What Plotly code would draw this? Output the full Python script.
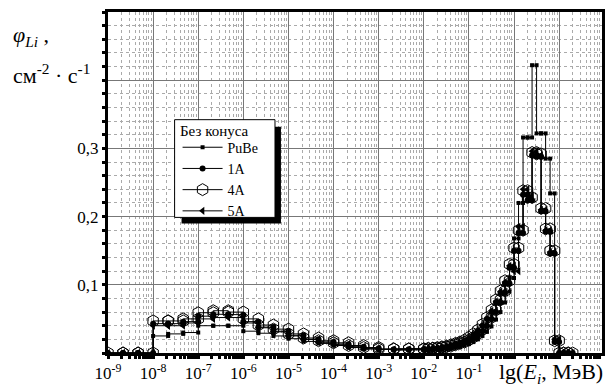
import plotly.graph_objects as go

# Energy group boundaries, lg(E, MeV)
LG_EDGES = [-9.0, -8.667, -8.333, -8.0, -7.667, -7.333, -7.0, -6.667, -6.333, -6.0,
            -5.667, -5.333, -5.0, -4.667, -4.333, -4.0, -3.667, -3.333, -3.0, -2.667,
            -2.333, -2.0, -1.9, -1.8, -1.7, -1.6, -1.5, -1.4, -1.3, -1.2, -1.1, -1.0,
            -0.9, -0.8, -0.7, -0.6, -0.5, -0.4, -0.3, -0.2, -0.1, 0.0, 0.1, 0.2, 0.3,
            0.4, 0.5, 0.6, 0.7, 0.8, 0.9, 1.0, 1.1, 1.2, 1.3]

PUBE = [0, 0, 0, 0.025, 0.028, 0.030, 0.040, 0.040, 0.040, 0.032, 0.029, 0.025, 0.021,
        0.017, 0.014, 0.011, 0.008, 0.006, 0.005, 0.004, 0.004,
        0.004, 0.004, 0.005, 0.005, 0.006, 0.007, 0.008, 0.009, 0.011, 0.013, 0.016,
        0.020, 0.025, 0.031, 0.039, 0.049, 0.060, 0.074, 0.090, 0.110, 0.168, 0.220,
        0.316, 0.316, 0.422, 0.322, 0.322, 0.285, 0.234, 0.020, 0, 0, 0]
S1A = [0, 0, 0, 0.043, 0.043, 0.046, 0.054, 0.057, 0.056, 0.046, 0.038, 0.032, 0.026,
       0.020, 0.016, 0.013, 0.009, 0.007, 0.005, 0.005, 0.005,
       0.005, 0.006, 0.006, 0.007, 0.008, 0.009, 0.011, 0.013, 0.015, 0.018, 0.021,
       0.026, 0.032, 0.040, 0.050, 0.060, 0.074, 0.088, 0.102, 0.125, 0.150, 0.176,
       0.232, 0.224, 0.290, 0.288, 0.208, 0.178, 0.146, 0.016, 0, 0, 0]
S4A = [0, 0, 0, 0.047, 0.047, 0.050, 0.059, 0.062, 0.060, 0.050, 0.041, 0.035, 0.028,
       0.022, 0.018, 0.015, 0.011, 0.008, 0.006, 0.006, 0.006,
       0.006, 0.007, 0.007, 0.008, 0.009, 0.010, 0.012, 0.014, 0.016, 0.019, 0.023,
       0.028, 0.034, 0.042, 0.052, 0.063, 0.078, 0.091, 0.106, 0.130, 0.154, 0.180,
       0.238, 0.228, 0.294, 0.292, 0.212, 0.182, 0.150, 0.018, 0, 0, 0]
S5A = [0, 0, 0, 0.040, 0.040, 0.044, 0.050, 0.052, 0.052, 0.044, 0.037, 0.031, 0.025,
       0.020, 0.016, 0.013, 0.009, 0.007, 0.005, 0.005, 0.005,
       0.005, 0.006, 0.006, 0.007, 0.008, 0.009, 0.011, 0.013, 0.015, 0.018, 0.022,
       0.027, 0.033, 0.041, 0.051, 0.062, 0.076, 0.090, 0.104, 0.128, 0.120, 0.185,
       0.240, 0.230, 0.296, 0.290, 0.210, 0.180, 0.148, 0.020, 0, 0, 0]

X_TICK_EXP = [-9, -8, -7, -6, -5, -4, -3, -2, -1, 0, 1]
Y_TICKS = [0, 0.1, 0.2, 0.3, 0.4, 0.5]
Y_TICK_TEXT = ["", "0,1", "0,2", "0,3", "", ""]
LEGEND_TITLE = "Без конуса"

FONT = "Liberation Serif"


def steps(vals):
    xs, ys = [], []
    for i, v in enumerate(vals):
        xs += [10 ** LG_EDGES[i], 10 ** LG_EDGES[i + 1]]
        ys += [v, v]
    return xs, ys


fig = go.Figure()
specs = [
    ("PuBe", PUBE, dict(symbol="square", size=4, color="black")),
    ("1A", S1A, dict(symbol="circle", size=6, color="black")),
    ("4A", S4A, dict(symbol="hexagon-open", size=12, color="black", line=dict(width=1, color="black"))),
    ("5A", S5A, dict(symbol="triangle-left", size=7, color="black")),
]
for name, vals, mk in specs:
    xs, ys = steps(vals)
    fig.add_trace(go.Scatter(x=xs, y=ys, mode="lines+markers", name=name,
                             line=dict(color="black", width=1), marker=mk))

minor_x = [k * 10 ** n for n in range(-9, 2) for k in range(2, 10)]

fig.update_xaxes(
    type="log", range=[-9, 1.95],
    tickmode="array", tickvals=[10 ** e for e in X_TICK_EXP],
    ticktext=[f"10<sup>{e}</sup>" if e < 0 else "" for e in X_TICK_EXP],
    showgrid=True, gridcolor="#777", gridwidth=1,
    ticks="outside", ticklen=3, tickwidth=3, tickcolor="black",
    showline=True, linecolor="black", linewidth=3, mirror=True,
    tickfont=dict(family=FONT, size=17, color="black"),
    minor=dict(tickmode="array", tickvals=minor_x, showgrid=True, griddash="dot",
               gridcolor="#aaa", gridwidth=1, ticks="outside", ticklen=3,
               tickwidth=3, tickcolor="black"),
    zeroline=False,
)
fig.update_yaxes(
    range=[0, 0.5], tickmode="array", tickvals=Y_TICKS, ticktext=Y_TICK_TEXT,
    showgrid=True, gridcolor="#777", gridwidth=1,
    ticks="outside", ticklen=3, tickwidth=3, tickcolor="black",
    showline=True, linecolor="black", linewidth=3, mirror=True,
    tickfont=dict(family=FONT, size=17, color="black"),
    minor=dict(dtick=0.02, showgrid=True, griddash="dot", gridcolor="#aaa",
               gridwidth=1, ticks="outside", ticklen=3, tickwidth=3, tickcolor="black"),
    zeroline=False,
)

L, R, T, B = 108, 4, 12, 33
W, H = 609, 387
pw, ph = W - L - R, H - T - B


def px(x):
    return (x - L) / pw


def py(y):
    return (H - B - y) / ph


# legend frame (box + drop shadow)
leg_l, leg_t, leg_r, leg_b = 175, 120, 276, 218
fig.add_shape(type="rect", xref="paper", yref="paper",
              x0=px(leg_l + 7), x1=px(leg_r + 6), y0=py(leg_b + 6), y1=py(leg_t + 7),
              fillcolor="black", line=dict(width=0), layer="above")
fig.add_shape(type="rect", xref="paper", yref="paper",
              x0=px(leg_l), x1=px(leg_r), y0=py(leg_b), y1=py(leg_t),
              fillcolor="white", line=dict(width=1, color="black"), layer="above")

fig.update_layout(
    width=W, height=H,
    margin=dict(l=L, r=R, t=T, b=B),
    paper_bgcolor="white", plot_bgcolor="white",
    font=dict(family=FONT, color="black"),
    legend=dict(x=px(leg_l + 3), y=py(leg_t + 12), xanchor="left", yanchor="top",
                bgcolor="rgba(0,0,0,0)", borderwidth=0,
                font=dict(family=FONT, size=14, color="black"),
                tracegroupgap=0, itemwidth=40),
    annotations=[
        dict(text=LEGEND_TITLE, xref="paper", yref="paper",
             x=px(leg_l + 3), y=py(leg_t + 11), xanchor="left", yanchor="middle",
             showarrow=False, font=dict(family=FONT, size=15)),
        dict(text="<i>φ</i><sub><i>Li</i></sub> ,", xref="paper", yref="paper",
             x=px(10), y=py(36), xanchor="left", yanchor="middle", showarrow=False,
             font=dict(family=FONT, size=22)),
        dict(text="см<sup>-2</sup> · с<sup>-1</sup>", xref="paper", yref="paper",
             x=px(10), y=py(74), xanchor="left", yanchor="middle", showarrow=False,
             font=dict(family=FONT, size=22)),
        dict(text="lg(<i>E</i><sub><i>i</i></sub>, МэВ)", xref="paper", yref="paper",
             x=px(608), y=py(374), xanchor="right", yanchor="middle", showarrow=False,
             font=dict(family=FONT, size=22)),
    ],
)

fig.write_html("out.html", config={"displayModeBar": False},
               post_script="document.body.style.margin='0';")
